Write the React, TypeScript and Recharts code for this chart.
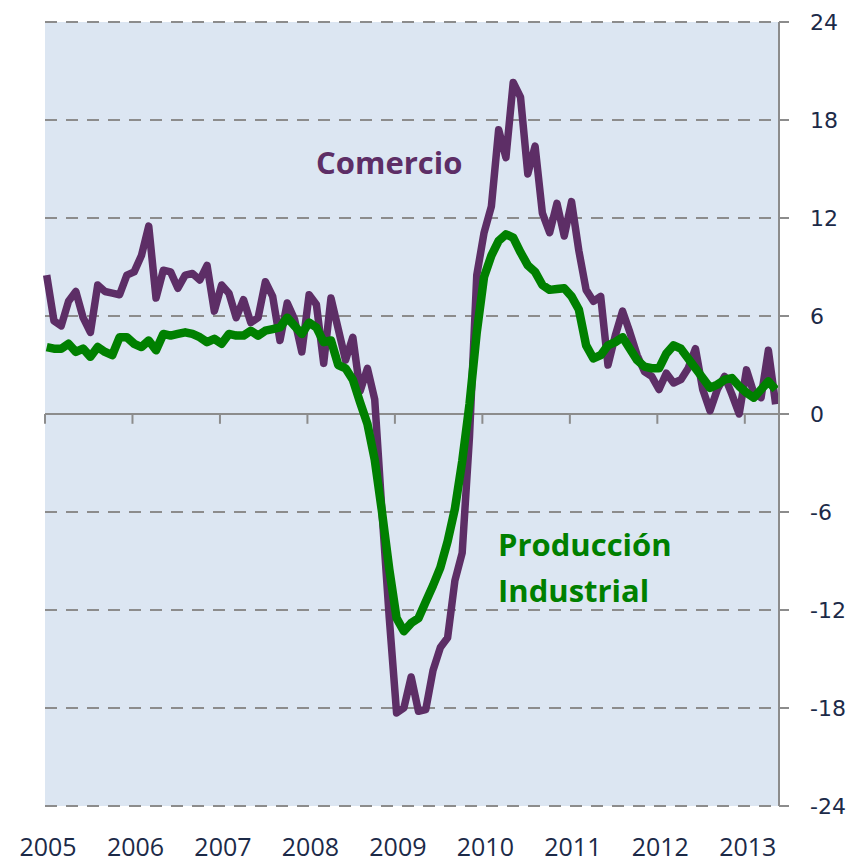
import React from 'react';
import { LineChart, Line, XAxis, YAxis, CartesianGrid, ReferenceLine } from 'recharts';

// Variación interanual (%), mensual desde ene-2005 hasta may-2013
const years = ['2005', '2006', '2007', '2008', '2009', '2010', '2011', '2012', '2013'];

const comercio = [
  8.5, 5.7, 5.4, 6.9, 7.5, 5.9, 5.0, 7.9, 7.5, 7.4, 7.3, 8.5,
  8.7, 9.7, 11.5, 7.1, 8.8, 8.7, 7.7, 8.5, 8.6, 8.2, 9.1, 6.3,
  7.9, 7.4, 5.9, 7.0, 5.6, 5.9, 8.1, 7.2, 4.5, 6.8, 5.8, 3.8,
  7.3, 6.7, 3.1, 7.1, 5.2, 3.3, 4.7, 1.4, 2.8, 0.9, -6.0, -12.5,
  -18.3, -18.0, -16.1, -18.2, -18.1, -15.7, -14.3, -13.7, -10.2, -8.5, -1.4, 8.5,
  11.1, 12.7, 17.4, 15.7, 20.3, 19.4, 14.7, 16.4, 12.3, 11.1, 12.9, 10.9,
  13.0, 10.0, 7.6, 6.9, 7.2, 3.0, 4.8, 6.3, 5.0, 3.6, 2.6, 2.3,
  1.5, 2.5, 1.9, 2.1, 2.8, 4.0, 1.5, 0.2, 1.5, 2.3, 1.2, 0.0,
  2.7, 1.3, 1.0, 3.9, 0.6,
];

const produccion = [
  4.1, 4.0, 4.0, 4.3, 3.8, 4.0, 3.5, 4.1, 3.8, 3.6, 4.7, 4.7,
  4.3, 4.1, 4.5, 3.9, 4.9, 4.8, 4.9, 5.0, 4.9, 4.7, 4.4, 4.6,
  4.3, 4.9, 4.8, 4.8, 5.1, 4.8, 5.1, 5.2, 5.3, 5.9, 5.4, 4.9,
  5.6, 5.3, 4.4, 4.5, 3.0, 2.8, 2.1, 0.7, -0.6, -2.8, -6.0, -9.5,
  -12.5, -13.3, -12.8, -12.5, -11.5, -10.5, -9.4, -7.8, -5.8, -2.9, 0.6, 5.0,
  8.4, 9.7, 10.6, 11.0, 10.8, 9.9, 9.1, 8.7, 7.9, 7.6, 7.65, 7.7,
  7.2, 6.4, 4.2, 3.4, 3.6, 4.2, 4.4, 4.7, 4.0, 3.3, 2.9, 2.8,
  2.8, 3.7, 4.2, 4.0, 3.4, 2.8, 2.2, 1.6, 1.8, 2.1, 2.2, 1.7,
  1.3, 1.0, 1.5, 2.0, 1.5,
];

const yTicks = [-24, -18, -12, -6, 0, 6, 12, 18, 24];

const PURPLE = '#5d2e66';
const GREEN = '#008000';
const GRID = '#8c8c8c';
const TEXT = '#1c2a48';
const TICK_SHIFT = 0.23;

const data = comercio.map((c, i) => ({ m: i, comercio: c, produccion: produccion[i] }));
const yearTicks = years.map((_, k) => k * 12 - TICK_SHIFT);

const YearTick = (props: any) => {
  const { x, y, payload } = props;
  const k = Math.round((payload.value + TICK_SHIFT) / 12);
  return (
    <text x={x + 3} y={y + 50} textAnchor="middle" fill={TEXT} fontSize={25} fontFamily="'Open Sans', sans-serif">
      {years[k]}
    </text>
  );
};

export default function App() {
  return (
    <div style={{ position: 'absolute', left: 0, top: 0, width: 852, height: 864, background: '#fff' }}>
      <LineChart width={852} height={864} data={data} margin={{ top: 22, right: 0, bottom: 0, left: 45 }}>
        <CartesianGrid
          vertical={false}
          fill="#dce6f2"
          fillOpacity={1}
          stroke={GRID}
          strokeWidth={2}
          strokeDasharray="12 9"
        />
        <XAxis
          dataKey="m"
          type="number"
          domain={[-TICK_SHIFT, 100.46]}
          ticks={yearTicks}
          interval={0}
          axisLine={false}
          tickLine={false}
          tickSize={0}
          tickMargin={0}
          height={58}
          tick={<YearTick />}
        />
        <YAxis
          orientation="right"
          domain={[-24, 24]}
          ticks={yTicks}
          interval={0}
          width={73}
          axisLine={{ stroke: GRID, strokeWidth: 2 }}
          tickLine={{ stroke: GRID, strokeWidth: 2 }}
          tickSize={10}
          tickMargin={21}
          tick={{ fill: TEXT, fontSize: 22, fontFamily: "'DejaVu Sans', sans-serif" }}
        />
        <ReferenceLine y={0} stroke={GRID} strokeWidth={2} />
        {yearTicks.map((t) => (
          <ReferenceLine
            key={t}
            segment={[{ x: t, y: 0 }, { x: t, y: -0.6 }]}
            stroke={GRID}
            strokeWidth={2}
          />
        ))}
        <Line
          type="linear"
          dataKey="comercio"
          stroke={PURPLE}
          strokeWidth={7.5}
          strokeLinejoin="round"
          dot={false}
          isAnimationActive={false}
        />
        <Line
          type="linear"
          dataKey="produccion"
          stroke={GREEN}
          strokeWidth={8.5}
          strokeLinejoin="round"
          dot={false}
          isAnimationActive={false}
        />
      </LineChart>
      <svg width={852} height={864} style={{ position: 'absolute', left: 0, top: 0, pointerEvents: 'none' }}>
        <g fontFamily="'Open Sans', sans-serif" fontWeight="bold" fontSize={31}>
          <text x={316} y={174} fill={PURPLE}>Comercio</text>
          <text x={498} y={556} fill={GREEN}>Producción</text>
          <text x={498} y={602} fill={GREEN}>Industrial</text>
        </g>
      </svg>
    </div>
  );
}
